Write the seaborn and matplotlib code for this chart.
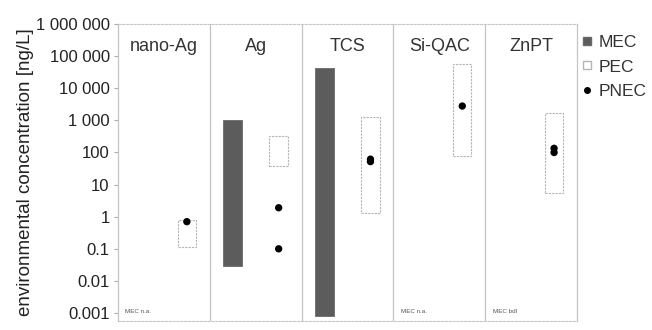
import numpy as np
import pandas as pd
import matplotlib
matplotlib.use("Agg")
import matplotlib.pyplot as plt
from matplotlib.lines import Line2D
import seaborn as sns

# substances (one panel each)
substances = ["nano-Ag", "Ag", "TCS", "Si-QAC", "ZnPT"]

# measured environmental concentration range [ng/L]
mec_low = [np.nan, 0.03, 0.0008, np.nan, np.nan]
mec_high = [np.nan, 1000, 43000, np.nan, np.nan]

# predicted environmental concentration range [ng/L]
pec_low = [0.11, 38, 1.3, 78, 5.4]
pec_high = [0.8, 320, 1260, 56000, 1700]

# predicted no effect concentrations [ng/L]
pnec_substance = ["nano-Ag", "Ag", "Ag", "TCS", "TCS", "Si-QAC", "ZnPT", "ZnPT"]
pnec_value = [0.7, 1.9, 0.1, 52, 62, 2800, 100, 135]

# notes where no MEC exists
notes = {"nano-Ag": "MEC n.a.", "Si-QAC": "MEC n.a.", "ZnPT": "MEC bdl"}

y_ticks = [0.001, 0.01, 0.1, 1, 10, 100, 1000, 10000, 100000, 1000000]
y_ticklabels = ["0.001", "0.01", "0.1", "1", "10", "100", "1 000", "10 000",
                "100 000", "1 000 000"]

sns.set_theme(style="white")
plt.rcParams["font.family"] = ["Liberation Sans", "DejaVu Sans"]

fig = plt.figure(figsize=(6.52, 3.30), dpi=100)
ax = fig.add_axes([0.181, 0.027, 0.704, 0.900])

pos = np.arange(len(substances))
mec_lo = np.array(mec_low)
mec_hi = np.array(mec_high)
pec_lo = np.array(pec_low)
pec_hi = np.array(pec_high)

# MEC bars (left half of each panel)
ax.bar(pos - 0.25, mec_hi - mec_lo, bottom=mec_lo, width=0.21,
       color="#5c5c5c", edgecolor="#6a6a6a", linewidth=0.6, zorder=2)
# PEC boxes (right half)
ax.bar(pos + 0.25, pec_hi - pec_lo, bottom=pec_lo, width=0.2,
       color="white", edgecolor="#b5b5b5", linewidth=0.8,
       linestyle=(0, (2, 1)), zorder=2)

# PNEC points
pnec_df = pd.DataFrame({"substance": pnec_substance, "value": pnec_value})
pnec_df["x"] = pnec_df["substance"].map({s: i for i, s in enumerate(substances)}) + 0.25
sns.scatterplot(data=pnec_df, x="x", y="value", ax=ax, color="black", s=28,
                edgecolor="none", zorder=3, legend=False)

ax.set_yscale("log")
ax.set_ylim(0.00056, 1000000)
ax.set_xlim(-0.5, len(substances) - 0.5)
ax.set_yticks(y_ticks)
ax.set_yticklabels(y_ticklabels)
ax.minorticks_off()
ax.set_xticks([])
ax.set_xlabel("")
ax.set_ylabel("environmental concentration [ng/L]", fontsize=13.5,
              color="#222222", labelpad=1)
ax.tick_params(axis="y", which="major", left=True, length=3, width=0.8,
               color="#aaaaaa", labelsize=12, labelcolor="#222222", pad=3)

# panel dividers and titles
for i, name in enumerate(substances):
    if i > 0:
        ax.axvline(i - 0.5, color="#c4c4c4", linewidth=0.9, zorder=1)
    ax.text(i, 0.925, name, transform=ax.get_xaxis_transform(), ha="center",
            va="center", fontsize=13, color="#333333")
    if name in notes:
        ax.text(i - 0.42, 0.025, notes[name], transform=ax.get_xaxis_transform(),
                ha="left", va="bottom", fontsize=4.5, color="#555555")

for side in ["left", "right"]:
    ax.spines[side].set_color("#c4c4c4")
    ax.spines[side].set_linewidth(0.9)
for side in ["top", "bottom"]:
    ax.spines[side].set_color("#c8c8c8")
    ax.spines[side].set_linewidth(0.8)
    ax.spines[side].set_linestyle((0, (2, 1.5)))

handles = [
    Line2D([], [], marker="s", linestyle="none", markersize=6,
           markerfacecolor="#5c5c5c", markeredgecolor="#6a6a6a"),
    Line2D([], [], marker="s", linestyle="none", markersize=6,
           markerfacecolor="white", markeredgecolor="#b5b5b5"),
    Line2D([], [], marker="o", linestyle="none", markersize=4,
           markerfacecolor="black", markeredgecolor="black"),
]
fig.legend(handles, ["MEC", "PEC", "PNEC"], loc="upper left",
           bbox_to_anchor=(0.891, 0.895), frameon=False, fontsize=12.5,
           handlelength=0.7, handletextpad=0.3, labelspacing=0.55,
           borderpad=0, borderaxespad=0, labelcolor="#333333")

fig.savefig("out.png", dpi=100)
